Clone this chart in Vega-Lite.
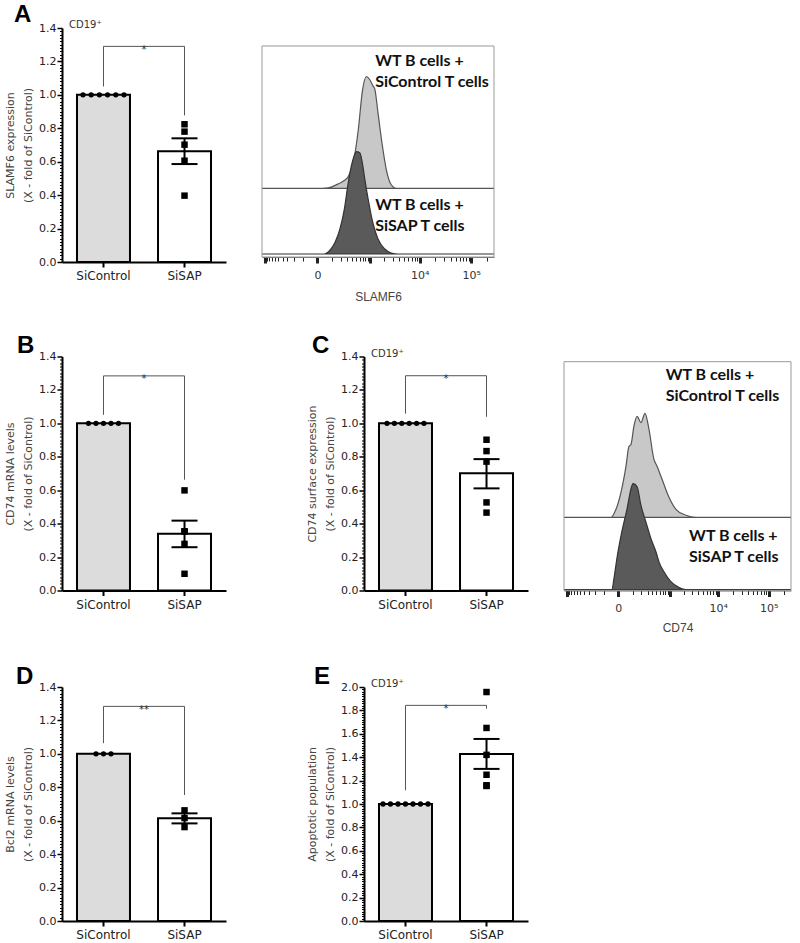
{
"$schema":"https://vega.github.io/schema/vega-lite/v6.json",
"padding":{"left":4,"top":3,"right":5,"bottom":5},
"config":{"view":{"stroke":null},"font":"DejaVu Sans",
"title":{"anchor":"start","frame":"group","fontSize":24,"font":"Liberation Sans","fontWeight":"bold","color":"#000"},
"axis":{"grid":false,"domainColor":"#000","tickColor":"#000","labelColor":"#222","labelFont":"DejaVu Sans","titleFont":"DejaVu Sans","titleFontWeight":"normal"},
"axisY":{"labelFontSize":11,"labelPadding":1,"domainWidth":2,"titleFontSize":11,"titleColor":"#444","titleLineHeight":18,"titlePadding":5,"labelOverlap":false}},
"datasets":{
"a_bar":[{"g":"SiControl","v":1,"lo":1,"hi":1},{"g":"SiSAP","v":0.662,"lo":0.586,"hi":0.74}],
"b_bar":[{"g":"SiControl","v":1,"lo":1,"hi":1},{"g":"SiSAP","v":0.339,"lo":0.259,"hi":0.418}],
"c_bar":[{"g":"SiControl","v":1,"lo":1,"hi":1},{"g":"SiSAP","v":0.701,"lo":0.611,"hi":0.786}],
"d_bar":[{"g":"SiControl","v":1,"lo":1,"hi":1},{"g":"SiSAP","v":0.614,"lo":0.584,"hi":0.644}],
"e_bar":[{"g":"SiControl","v":1,"lo":1,"hi":1},{"g":"SiSAP","v":1.427,"lo":1.3,"hi":1.556}],
"a_pts":[{"g":"SiControl","rep":1,"v":1},{"g":"SiControl","rep":2,"v":1},{"g":"SiControl","rep":3,"v":1},{"g":"SiControl","rep":4,"v":1},{"g":"SiControl","rep":5,"v":1},{"g":"SiControl","rep":6,"v":1},{"g":"SiSAP","rep":1,"v":0.824},{"g":"SiSAP","rep":2,"v":0.78},{"g":"SiSAP","rep":3,"v":0.702},{"g":"SiSAP","rep":4,"v":0.606},{"g":"SiSAP","rep":5,"v":0.397}],
"b_pts":[{"g":"SiControl","rep":1,"v":1},{"g":"SiControl","rep":2,"v":1},{"g":"SiControl","rep":3,"v":1},{"g":"SiControl","rep":4,"v":1},{"g":"SiControl","rep":5,"v":1},{"g":"SiSAP","rep":1,"v":0.599},{"g":"SiSAP","rep":2,"v":0.354},{"g":"SiSAP","rep":3,"v":0.354},{"g":"SiSAP","rep":4,"v":0.279},{"g":"SiSAP","rep":5,"v":0.1}],
"c_pts":[{"g":"SiControl","rep":1,"v":1},{"g":"SiControl","rep":2,"v":1},{"g":"SiControl","rep":3,"v":1},{"g":"SiControl","rep":4,"v":1},{"g":"SiControl","rep":5,"v":1},{"g":"SiControl","rep":6,"v":1},{"g":"SiSAP","rep":1,"v":0.902},{"g":"SiSAP","rep":2,"v":0.834},{"g":"SiSAP","rep":3,"v":0.771},{"g":"SiSAP","rep":4,"v":0.527},{"g":"SiSAP","rep":5,"v":0.466}],
"d_pts":[{"g":"SiControl","rep":1,"v":1},{"g":"SiControl","rep":2,"v":1},{"g":"SiControl","rep":3,"v":1},{"g":"SiSAP","rep":1,"v":0.662},{"g":"SiSAP","rep":2,"v":0.616},{"g":"SiSAP","rep":3,"v":0.562}],
"e_pts":[{"g":"SiControl","rep":1,"v":1},{"g":"SiControl","rep":2,"v":1},{"g":"SiControl","rep":3,"v":1},{"g":"SiControl","rep":4,"v":1},{"g":"SiControl","rep":5,"v":1},{"g":"SiControl","rep":6,"v":1},{"g":"SiControl","rep":7,"v":1},{"g":"SiSAP","rep":1,"v":1.957},{"g":"SiSAP","rep":2,"v":1.65},{"g":"SiSAP","rep":3,"v":1.42},{"g":"SiSAP","rep":4,"v":1.25},{"g":"SiSAP","rep":5,"v":1.154},{"g":"SiSAP","rep":6,"v":1.16}],
"a_brk":[{"g":"SiControl","o":1,"v":1.05,"s":""},{"g":"SiControl","o":2,"v":1.29,"s":"*"},{"g":"SiSAP","o":3,"v":1.29,"s":""},{"g":"SiSAP","o":4,"v":0.877,"s":""}],
"b_brk":[{"g":"SiControl","o":1,"v":1.051,"s":""},{"g":"SiControl","o":2,"v":1.284,"s":"*"},{"g":"SiSAP","o":3,"v":1.284,"s":""},{"g":"SiSAP","o":4,"v":0.663,"s":""}],
"c_brk":[{"g":"SiControl","o":1,"v":1.058,"s":""},{"g":"SiControl","o":2,"v":1.285,"s":"*"},{"g":"SiSAP","o":3,"v":1.285,"s":""},{"g":"SiSAP","o":4,"v":1.039,"s":""}],
"d_brk":[{"g":"SiControl","o":1,"v":1.064,"s":""},{"g":"SiControl","o":2,"v":1.284,"s":"**"},{"g":"SiSAP","o":3,"v":1.284,"s":""},{"g":"SiSAP","o":4,"v":0.754,"s":""}],
"e_brk":[{"g":"SiControl","o":1,"v":1.117,"s":""},{"g":"SiControl","o":2,"v":1.843,"s":"*"},{"g":"SiSAP","o":3,"v":1.843,"s":""},{"g":"SiSAP","o":4,"v":1.815,"s":""}],
"ha_top":[{"ch":0,"c":0},{"ch":235,"c":0},{"ch":286,"c":0.5},{"ch":329,"c":4},{"ch":355,"c":7},{"ch":372,"c":10.5},{"ch":393,"c":22.5},{"ch":415,"c":52.7},{"ch":433,"c":88},{"ch":450,"c":100.7},{"ch":464,"c":98},{"ch":479,"c":92},{"ch":486,"c":89.6},{"ch":500,"c":68},{"ch":517,"c":41},{"ch":536,"c":16.7},{"ch":557,"c":3.2},{"ch":578,"c":0},{"ch":1000,"c":0}],
"ha_bot":[{"ch":0,"c":0},{"ch":269,"c":0},{"ch":294,"c":3.6},{"ch":315,"c":10.5},{"ch":336,"c":22.5},{"ch":355,"c":40.5},{"ch":372,"c":64.6},{"ch":389,"c":82.6},{"ch":407,"c":92.1},{"ch":422,"c":91},{"ch":432,"c":82.6},{"ch":443,"c":67.5},{"ch":460,"c":46.6},{"ch":479,"c":27},{"ch":500,"c":13.5},{"ch":529,"c":4.5},{"ch":557,"c":0.9},{"ch":586,"c":0},{"ch":1000,"c":0}],
"hc_top":[{"ch":0,"c":0},{"ch":207,"c":0},{"ch":229,"c":7.7},{"ch":251,"c":24},{"ch":273,"c":49},{"ch":286,"c":68},{"ch":295,"c":70},{"ch":308,"c":87.5},{"ch":322,"c":97},{"ch":339,"c":91},{"ch":357,"c":100},{"ch":374,"c":85},{"ch":396,"c":56},{"ch":410,"c":49},{"ch":432,"c":36.5},{"ch":463,"c":19},{"ch":493,"c":7.7},{"ch":537,"c":2},{"ch":581,"c":0},{"ch":1000,"c":0}],
"hc_bot":[{"ch":0,"c":0},{"ch":211,"c":0},{"ch":220,"c":10.6},{"ch":233,"c":30},{"ch":255,"c":56},{"ch":278,"c":78},{"ch":295,"c":97},{"ch":304,"c":102},{"ch":322,"c":99},{"ch":339,"c":81},{"ch":361,"c":65},{"ch":383,"c":49},{"ch":405,"c":36.5},{"ch":418,"c":27},{"ch":441,"c":17},{"ch":471,"c":7.7},{"ch":507,"c":2},{"ch":537,"c":0},{"ch":1000,"c":0}]
},
"spacing":31.5,
"bounds":"full",
"vconcat":[
{"hconcat":[
{"width":164,"height":234,
"title":{"text":"A","dx":-48,"offset":-7},
"encoding":{
"x":{"field":"g","type":"nominal","sort":null,"scale":{"domain":["SiControl","SiSAP"],"paddingInner":0.346,"paddingOuter":0.185},"axis":{"title":null,"labelAngle":0,"labelFontSize":12,"labelPadding":3.5,"tickSize":5,"tickWidth":2,"domainWidth":2}},
"y":{"field":"v","type":"quantitative","scale":{"domain":[0,1.4],"nice":false},"axis":{"title":["SLAMF6 expression","(X - fold of SiControl)"],"tickCount":70,"labelExpr":"abs(datum.value*5-round(datum.value*5))<0.001 ? format(datum.value,'.1f') : ''","tickSize":{"condition":{"test":"abs(datum.value*5-round(datum.value*5))<0.001","value":5},"value":2.5},"tickWidth":{"condition":{"test":"abs(datum.value*5-round(datum.value*5))<0.001","value":1.5},"value":1}}}},
"layer":[
{"data":{"name":"a_bar"},"mark":{"type":"bar","stroke":"#000","strokeWidth":2},"encoding":{"fill":{"field":"g","type":"nominal","scale":{"domain":["SiControl","SiSAP"],"range":["#dcdcdc","#ffffff"]},"legend":null}}},
{"data":{"name":"a_bar"},"transform":[{"filter":"datum.g == 'SiSAP'"}],"mark":{"type":"rule","color":"#000","strokeWidth":2},"encoding":{"y":{"field":"lo","type":"quantitative","scale":{"domain":[0,1.4],"nice":false}},"y2":{"field":"hi"}}},
{"data":{"name":"a_bar"},"transform":[{"filter":"datum.g == 'SiSAP'"}],"mark":{"type":"tick","orient":"horizontal","size":26,"thickness":2,"color":"#000","opacity":1},"encoding":{"y":{"field":"lo","type":"quantitative","scale":{"domain":[0,1.4],"nice":false}}}},
{"data":{"name":"a_bar"},"transform":[{"filter":"datum.g == 'SiSAP'"}],"mark":{"type":"tick","orient":"horizontal","size":26,"thickness":2,"color":"#000","opacity":1},"encoding":{"y":{"field":"hi","type":"quantitative","scale":{"domain":[0,1.4],"nice":false}}}},
{"data":{"name":"a_pts"},"transform":[{"filter":"datum.g == 'SiControl'"}],"mark":{"type":"point","shape":"circle","filled":true,"size":28,"color":"#000","opacity":1},"encoding":{"xOffset":{"field":"rep","type":"nominal","scale":{"type":"point","range":[6,47],"padding":0}}}},
{"data":{"name":"a_pts"},"transform":[{"filter":"datum.g == 'SiSAP'"}],"mark":{"type":"point","shape":"square","filled":true,"size":42,"color":"#000","opacity":1}},
{"data":{"name":"a_brk"},"mark":{"type":"line","color":"#555","strokeWidth":1},"encoding":{"order":{"field":"o","type":"quantitative"}}},
{"data":{"name":"a_brk"},"transform":[{"filter":"datum.o == 2"}],"mark":{"type":"text","dx":40.5,"dy":3.5,"fontSize":10,"fill":"#333"},"encoding":{"text":{"field":"s"}}},
{"data":{"values":[{"g":"SiControl","v":1.4,"t":"CD19⁺"}]},"mark":{"type":"text","align":"left","baseline":"alphabetic","dx":-34.5,"fontSize":10,"fill":"#333"},"encoding":{"text":{"field":"t"}}}
],
"resolve":{"scale":{"xOffset":"independent"}}},
{"width":232,"height":234,
"encoding":{"x":{"field":"ch","type":"quantitative","scale":{"domain":[0,1000],"nice":false,"zero":false},"axis":{"title":"SLAMF6","values":[12.8,22,32.1,43.4,56.2,71,88.4,109.7,137,175.1,239,302.9,341.1,368.4,389.6,407,421.7,434.5,445.9,456.1,465.2,527.5,565.1,592.1,613.2,630.5,645.2,658,669.2,679.3,745.9,785,812.7,834.3,851.9,866.8,879.7,891.1,901.3,968.4],"labelExpr":"datum.value == 239 ? '0' : datum.value == 679.3 ? '10⁴' : datum.value == 901.3 ? '10⁵' : ''","labelOverlap":false,"labelFlush":false,"tickSize":{"condition":{"test":"indexof([12.8,239,465.2,679.3,901.3], datum.value) >= 0","value":6},"value":4},"tickWidth":{"condition":{"test":"indexof([12.8,239,465.2,679.3,901.3], datum.value) >= 0","value":3},"value":1},"tickColor":"#222","domainColor":"#666","domainWidth":1,"offset":-5,"labelFontSize":11,"labelPadding":6,"labelColor":"#333","titleFont":"Liberation Sans","titleFontSize":12,"titleColor":"#444","titlePadding":11}}},
"layer":[
{"data":{"name":"ha_top"},"mark":{"type":"area","interpolate":"monotone","fill":"#c8c8c8","stroke":"#555","strokeWidth":1.2},"encoding":{"y":{"field":"c","type":"quantitative","scale":{"domain":[-66.4,144.4],"nice":false,"zero":false},"axis":null},"y2":{"datum":0}}},
{"data":{"name":"ha_bot"},"mark":{"type":"area","interpolate":"monotone","fill":"#5a5a5a","stroke":"#333","strokeWidth":1.2},"encoding":{"y":{"field":"c","type":"quantitative","scale":{"domain":[-7.2,203.5],"nice":false,"zero":false},"axis":null},"y2":{"datum":0}}},
{"data":{"values":[{"ch":0,"ch2":1000,"c":-2.7,"c2":187.3}]},"mark":{"type":"rect","fill":"#fff","fillOpacity":0,"stroke":"#999","strokeWidth":1},"encoding":{"x2":{"field":"ch2"},"y":{"field":"c","type":"quantitative","scale":{"domain":[-7.2,203.5],"nice":false,"zero":false},"axis":null},"y2":{"field":"c2"}}},
{"data":{"values":[{"ch":488,"c":169.3,"t":["WT B cells +","SiControl T cells"]},{"ch":488,"c":39.6,"t":["WT B cells +","SiSAP T cells"]}]},"mark":{"type":"text","align":"left","baseline":"alphabetic","font":"Lato","fontWeight":"bold","fontSize":16,"lineHeight":21,"fill":"#111"},"encoding":{"y":{"field":"c","type":"quantitative","scale":{"domain":[-7.2,203.5],"nice":false,"zero":false},"axis":null},"text":{"field":"t"}}}
],
"resolve":{"scale":{"y":"independent"}}}
],"spacing":36,"bounds":"flush"},
{"hconcat":[
{"width":266,"height":234,
"title":{"text":"B","dx":-45,"offset":-7.5},
"encoding":{
"x":{"field":"g","type":"nominal","sort":null,"scale":{"domain":["SiControl","SiSAP"],"range":[0,164],"paddingInner":0.346,"paddingOuter":0.185},"axis":{"title":null,"labelAngle":0,"labelFontSize":12,"labelPadding":3.5,"tickSize":5,"tickWidth":2,"domainWidth":2}},
"y":{"field":"v","type":"quantitative","scale":{"domain":[0,1.4],"nice":false},"axis":{"title":["CD74 mRNA levels","(X - fold of SiControl)"],"tickCount":70,"labelExpr":"abs(datum.value*5-round(datum.value*5))<0.001 ? format(datum.value,'.1f') : ''","tickSize":{"condition":{"test":"abs(datum.value*5-round(datum.value*5))<0.001","value":5},"value":2.5},"tickWidth":{"condition":{"test":"abs(datum.value*5-round(datum.value*5))<0.001","value":1.5},"value":1}}}},
"layer":[
{"data":{"name":"b_bar"},"mark":{"type":"bar","stroke":"#000","strokeWidth":2},"encoding":{"fill":{"field":"g","type":"nominal","scale":{"domain":["SiControl","SiSAP"],"range":["#dcdcdc","#ffffff"]},"legend":null}}},
{"data":{"name":"b_bar"},"transform":[{"filter":"datum.g == 'SiSAP'"}],"mark":{"type":"rule","color":"#000","strokeWidth":2},"encoding":{"y":{"field":"lo","type":"quantitative","scale":{"domain":[0,1.4],"nice":false}},"y2":{"field":"hi"}}},
{"data":{"name":"b_bar"},"transform":[{"filter":"datum.g == 'SiSAP'"}],"mark":{"type":"tick","orient":"horizontal","size":26,"thickness":2,"color":"#000","opacity":1},"encoding":{"y":{"field":"lo","type":"quantitative","scale":{"domain":[0,1.4],"nice":false}}}},
{"data":{"name":"b_bar"},"transform":[{"filter":"datum.g == 'SiSAP'"}],"mark":{"type":"tick","orient":"horizontal","size":26,"thickness":2,"color":"#000","opacity":1},"encoding":{"y":{"field":"hi","type":"quantitative","scale":{"domain":[0,1.4],"nice":false}}}},
{"data":{"name":"b_pts"},"transform":[{"filter":"datum.g == 'SiControl'"}],"mark":{"type":"point","shape":"circle","filled":true,"size":28,"color":"#000","opacity":1},"encoding":{"xOffset":{"field":"rep","type":"nominal","scale":{"type":"point","range":[11.5,41.5],"padding":0}}}},
{"data":{"name":"b_pts"},"transform":[{"filter":"datum.g == 'SiSAP'"}],"mark":{"type":"point","shape":"square","filled":true,"size":42,"color":"#000","opacity":1}},
{"data":{"name":"b_brk"},"mark":{"type":"line","color":"#555","strokeWidth":1},"encoding":{"order":{"field":"o","type":"quantitative"}}},
{"data":{"name":"b_brk"},"transform":[{"filter":"datum.o == 2"}],"mark":{"type":"text","dx":40.5,"dy":3.5,"fontSize":10,"fill":"#333"},"encoding":{"text":{"field":"s"}}}
],
"resolve":{"scale":{"xOffset":"independent"}}},
{"width":164,"height":234,
"title":{"text":"C","dx":-52,"offset":-9},
"encoding":{
"x":{"field":"g","type":"nominal","sort":null,"scale":{"domain":["SiControl","SiSAP"],"paddingInner":0.346,"paddingOuter":0.185},"axis":{"title":null,"labelAngle":0,"labelFontSize":12,"labelPadding":3.5,"tickSize":5,"tickWidth":2,"domainWidth":2}},
"y":{"field":"v","type":"quantitative","scale":{"domain":[0,1.4],"nice":false},"axis":{"title":["CD74 surface expression","(X - fold of SiControl)"],"tickCount":70,"labelExpr":"abs(datum.value*5-round(datum.value*5))<0.001 ? format(datum.value,'.1f') : ''","tickSize":{"condition":{"test":"abs(datum.value*5-round(datum.value*5))<0.001","value":5},"value":2.5},"tickWidth":{"condition":{"test":"abs(datum.value*5-round(datum.value*5))<0.001","value":1.5},"value":1}}}},
"layer":[
{"data":{"name":"c_bar"},"mark":{"type":"bar","stroke":"#000","strokeWidth":2},"encoding":{"fill":{"field":"g","type":"nominal","scale":{"domain":["SiControl","SiSAP"],"range":["#dcdcdc","#ffffff"]},"legend":null}}},
{"data":{"name":"c_bar"},"transform":[{"filter":"datum.g == 'SiSAP'"}],"mark":{"type":"rule","color":"#000","strokeWidth":2},"encoding":{"y":{"field":"lo","type":"quantitative","scale":{"domain":[0,1.4],"nice":false}},"y2":{"field":"hi"}}},
{"data":{"name":"c_bar"},"transform":[{"filter":"datum.g == 'SiSAP'"}],"mark":{"type":"tick","orient":"horizontal","size":26,"thickness":2,"color":"#000","opacity":1},"encoding":{"y":{"field":"lo","type":"quantitative","scale":{"domain":[0,1.4],"nice":false}}}},
{"data":{"name":"c_bar"},"transform":[{"filter":"datum.g == 'SiSAP'"}],"mark":{"type":"tick","orient":"horizontal","size":26,"thickness":2,"color":"#000","opacity":1},"encoding":{"y":{"field":"hi","type":"quantitative","scale":{"domain":[0,1.4],"nice":false}}}},
{"data":{"name":"c_pts"},"transform":[{"filter":"datum.g == 'SiControl'"}],"mark":{"type":"point","shape":"circle","filled":true,"size":28,"color":"#000","opacity":1},"encoding":{"xOffset":{"field":"rep","type":"nominal","scale":{"type":"point","range":[8,45],"padding":0}}}},
{"data":{"name":"c_pts"},"transform":[{"filter":"datum.g == 'SiSAP'"}],"mark":{"type":"point","shape":"square","filled":true,"size":42,"color":"#000","opacity":1}},
{"data":{"name":"c_brk"},"mark":{"type":"line","color":"#555","strokeWidth":1},"encoding":{"order":{"field":"o","type":"quantitative"}}},
{"data":{"name":"c_brk"},"transform":[{"filter":"datum.o == 2"}],"mark":{"type":"text","dx":40.5,"dy":3.5,"fontSize":10,"fill":"#333"},"encoding":{"text":{"field":"s"}}},
{"data":{"values":[{"g":"SiControl","v":1.4,"t":"CD19⁺"}]},"mark":{"type":"text","align":"left","baseline":"alphabetic","dx":-34.5,"fontSize":10,"fill":"#333"},"encoding":{"text":{"field":"t"}}}
],
"resolve":{"scale":{"xOffset":"independent"}}},
{"width":227,"height":234,
"encoding":{"x":{"field":"ch","type":"quantitative","scale":{"domain":[0,1000],"nice":false,"zero":false},"axis":{"title":"CD74","values":[12.8,22,32.1,43.4,56.2,71,88.4,109.7,137,175.1,239,302.9,341.1,368.4,389.6,407,421.7,434.5,445.9,456.1,465.2,527.5,565.1,592.1,613.2,630.5,645.2,658,669.2,679.3,745.9,785,812.7,834.3,851.9,866.8,879.7,891.1,901.3,968.4],"labelExpr":"datum.value == 239 ? '0' : datum.value == 679.3 ? '10⁴' : datum.value == 901.3 ? '10⁵' : ''","labelOverlap":false,"labelFlush":false,"tickSize":{"condition":{"test":"indexof([12.8,239,465.2,679.3,901.3], datum.value) >= 0","value":6},"value":4},"tickWidth":{"condition":{"test":"indexof([12.8,239,465.2,679.3,901.3], datum.value) >= 0","value":3},"value":1},"tickColor":"#222","domainColor":"#666","domainWidth":1,"offset":0,"labelFontSize":11,"labelPadding":6,"labelColor":"#333","titleFont":"Liberation Sans","titleFontSize":12,"titleColor":"#444","titlePadding":9}}},
"layer":[
{"data":{"name":"hc_top"},"mark":{"type":"area","interpolate":"monotone","fill":"#c8c8c8","stroke":"#555","strokeWidth":1.2},"encoding":{"y":{"field":"c","type":"quantitative","scale":{"domain":[-70.4,154.6],"nice":false,"zero":false},"axis":null},"y2":{"datum":0}}},
{"data":{"name":"hc_bot"},"mark":{"type":"area","interpolate":"monotone","fill":"#5a5a5a","stroke":"#333","strokeWidth":1.2},"encoding":{"y":{"field":"c","type":"quantitative","scale":{"domain":[-0.77,224.2],"nice":false,"zero":false},"axis":null},"y2":{"datum":0}}},
{"data":{"values":[{"ch":0,"ch2":1000,"c":-0.7,"c2":219.2}]},"mark":{"type":"rect","fill":"#fff","fillOpacity":0,"stroke":"#999","strokeWidth":1},"encoding":{"x2":{"field":"ch2"},"y":{"field":"c","type":"quantitative","scale":{"domain":[-0.77,224.2],"nice":false,"zero":false},"axis":null},"y2":{"field":"c2"}}},
{"data":{"values":[{"ch":448,"c":202,"t":["WT B cells +","SiControl T cells"]},{"ch":551,"c":46.8,"t":["WT B cells +","SiSAP T cells"]}]},"mark":{"type":"text","align":"left","baseline":"alphabetic","font":"Lato","fontWeight":"bold","fontSize":16,"lineHeight":21,"fill":"#111"},"encoding":{"y":{"field":"c","type":"quantitative","scale":{"domain":[-0.77,224.2],"nice":false,"zero":false},"axis":null},"text":{"field":"t"}}}
],
"resolve":{"scale":{"y":"independent"}}}
],"spacing":36,"bounds":"flush"},
{"hconcat":[
{"width":266,"height":234,
"title":{"text":"D","dx":-46,"offset":-8},
"encoding":{
"x":{"field":"g","type":"nominal","sort":null,"scale":{"domain":["SiControl","SiSAP"],"range":[0,164],"paddingInner":0.346,"paddingOuter":0.185},"axis":{"title":null,"labelAngle":0,"labelFontSize":12,"labelPadding":3.5,"tickSize":5,"tickWidth":2,"domainWidth":2}},
"y":{"field":"v","type":"quantitative","scale":{"domain":[0,1.4],"nice":false},"axis":{"title":["Bcl2 mRNA levels","(X - fold of SiControl)"],"tickCount":70,"labelExpr":"abs(datum.value*5-round(datum.value*5))<0.001 ? format(datum.value,'.1f') : ''","tickSize":{"condition":{"test":"abs(datum.value*5-round(datum.value*5))<0.001","value":5},"value":2.5},"tickWidth":{"condition":{"test":"abs(datum.value*5-round(datum.value*5))<0.001","value":1.5},"value":1}}}},
"layer":[
{"data":{"name":"d_bar"},"mark":{"type":"bar","stroke":"#000","strokeWidth":2},"encoding":{"fill":{"field":"g","type":"nominal","scale":{"domain":["SiControl","SiSAP"],"range":["#dcdcdc","#ffffff"]},"legend":null}}},
{"data":{"name":"d_bar"},"transform":[{"filter":"datum.g == 'SiSAP'"}],"mark":{"type":"rule","color":"#000","strokeWidth":2},"encoding":{"y":{"field":"lo","type":"quantitative","scale":{"domain":[0,1.4],"nice":false}},"y2":{"field":"hi"}}},
{"data":{"name":"d_bar"},"transform":[{"filter":"datum.g == 'SiSAP'"}],"mark":{"type":"tick","orient":"horizontal","size":26,"thickness":2,"color":"#000","opacity":1},"encoding":{"y":{"field":"lo","type":"quantitative","scale":{"domain":[0,1.4],"nice":false}}}},
{"data":{"name":"d_bar"},"transform":[{"filter":"datum.g == 'SiSAP'"}],"mark":{"type":"tick","orient":"horizontal","size":26,"thickness":2,"color":"#000","opacity":1},"encoding":{"y":{"field":"hi","type":"quantitative","scale":{"domain":[0,1.4],"nice":false}}}},
{"data":{"name":"d_pts"},"transform":[{"filter":"datum.g == 'SiControl'"}],"mark":{"type":"point","shape":"circle","filled":true,"size":28,"color":"#000","opacity":1},"encoding":{"xOffset":{"field":"rep","type":"nominal","scale":{"type":"point","range":[19,34],"padding":0}}}},
{"data":{"name":"d_pts"},"transform":[{"filter":"datum.g == 'SiSAP'"}],"mark":{"type":"point","shape":"square","filled":true,"size":42,"color":"#000","opacity":1}},
{"data":{"name":"d_brk"},"mark":{"type":"line","color":"#555","strokeWidth":1},"encoding":{"order":{"field":"o","type":"quantitative"}}},
{"data":{"name":"d_brk"},"transform":[{"filter":"datum.o == 2"}],"mark":{"type":"text","dx":40.5,"dy":3.5,"fontSize":10,"fill":"#333"},"encoding":{"text":{"field":"s"}}}
],
"resolve":{"scale":{"xOffset":"independent"}}},
{"width":164,"height":234,
"title":{"text":"E","dx":-50,"offset":-10},
"encoding":{
"x":{"field":"g","type":"nominal","sort":null,"scale":{"domain":["SiControl","SiSAP"],"paddingInner":0.346,"paddingOuter":0.185},"axis":{"title":null,"labelAngle":0,"labelFontSize":12,"labelPadding":3.5,"tickSize":5,"tickWidth":2,"domainWidth":2}},
"y":{"field":"v","type":"quantitative","scale":{"domain":[0,2],"nice":false},"axis":{"title":["Apoptotic population","(X - fold of SiControl)"],"tickCount":100,"labelExpr":"abs(datum.value*5-round(datum.value*5))<0.001 ? format(datum.value,'.1f') : ''","tickSize":{"condition":{"test":"abs(datum.value*5-round(datum.value*5))<0.001","value":5},"value":2.5},"tickWidth":{"condition":{"test":"abs(datum.value*5-round(datum.value*5))<0.001","value":1.5},"value":1}}}},
"layer":[
{"data":{"name":"e_bar"},"mark":{"type":"bar","stroke":"#000","strokeWidth":2},"encoding":{"fill":{"field":"g","type":"nominal","scale":{"domain":["SiControl","SiSAP"],"range":["#dcdcdc","#ffffff"]},"legend":null}}},
{"data":{"name":"e_bar"},"transform":[{"filter":"datum.g == 'SiSAP'"}],"mark":{"type":"rule","color":"#000","strokeWidth":2},"encoding":{"y":{"field":"lo","type":"quantitative","scale":{"domain":[0,2],"nice":false}},"y2":{"field":"hi"}}},
{"data":{"name":"e_bar"},"transform":[{"filter":"datum.g == 'SiSAP'"}],"mark":{"type":"tick","orient":"horizontal","size":26,"thickness":2,"color":"#000","opacity":1},"encoding":{"y":{"field":"lo","type":"quantitative","scale":{"domain":[0,2],"nice":false}}}},
{"data":{"name":"e_bar"},"transform":[{"filter":"datum.g == 'SiSAP'"}],"mark":{"type":"tick","orient":"horizontal","size":26,"thickness":2,"color":"#000","opacity":1},"encoding":{"y":{"field":"hi","type":"quantitative","scale":{"domain":[0,2],"nice":false}}}},
{"data":{"name":"e_pts"},"transform":[{"filter":"datum.g == 'SiControl'"}],"mark":{"type":"point","shape":"circle","filled":true,"size":28,"color":"#000","opacity":1},"encoding":{"xOffset":{"field":"rep","type":"nominal","scale":{"type":"point","range":[4,49],"padding":0}}}},
{"data":{"name":"e_pts"},"transform":[{"filter":"datum.g == 'SiSAP'"}],"mark":{"type":"point","shape":"square","filled":true,"size":42,"color":"#000","opacity":1}},
{"data":{"name":"e_brk"},"mark":{"type":"line","color":"#555","strokeWidth":1},"encoding":{"order":{"field":"o","type":"quantitative"}}},
{"data":{"name":"e_brk"},"transform":[{"filter":"datum.o == 2"}],"mark":{"type":"text","dx":40.5,"dy":3.5,"fontSize":10,"fill":"#333"},"encoding":{"text":{"field":"s"}}},
{"data":{"values":[{"g":"SiControl","v":2,"t":"CD19⁺"}]},"mark":{"type":"text","align":"left","baseline":"alphabetic","dx":-34.5,"fontSize":10,"fill":"#333"},"encoding":{"text":{"field":"t"}}}
],
"resolve":{"scale":{"xOffset":"independent"}}}
],"spacing":36,"bounds":"flush"}
]
}
